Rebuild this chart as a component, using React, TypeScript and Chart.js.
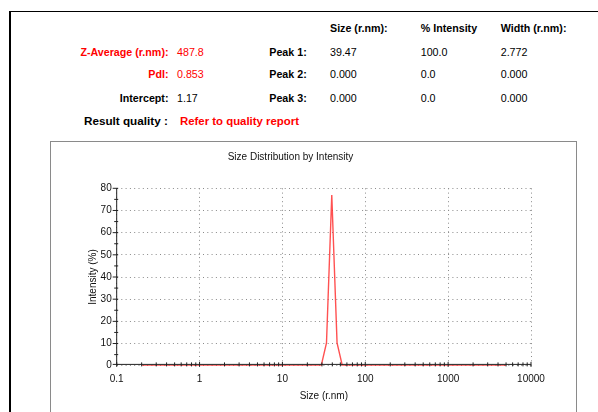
import React, { useEffect, useRef } from 'react';
import { Chart, registerables } from 'chart.js';

Chart.register(...registerables);

// ---- Data ----
const sizes = [
  0.2, 0.2316, 0.2683, 0.3107, 0.3598, 0.4166, 0.4825, 0.5585, 0.647, 0.7495,
  0.868, 1.005, 1.164, 1.348, 1.561, 1.808, 2.094, 2.425, 2.808, 3.252,
  3.766, 4.361, 5.05, 5.85, 6.77, 7.845, 9.085, 10.52, 12.18, 14.11,
  16.34, 18.92, 21.91, 25.38, 29.39, 34.03, 39.41, 45.64, 52.85, 61.2,
  70.9, 82.1, 95.05, 110.1, 127.5, 147.7, 171.0, 198.1, 229.4, 265.6,
  307.6, 356.2, 412.5, 477.7, 553, 640.5, 742, 859, 995, 1153,
  1335, 1546, 1790, 2073, 2401, 2780, 3220, 3728, 4318, 5000,
];
const intensity = [
  0, 0, 0, 0, 0, 0, 0, 0, 0, 0,
  0, 0, 0, 0, 0, 0, 0, 0, 0, 0,
  0, 0, 0, 0, 0, 0, 0, 0, 0, 0,
  0, 0, 0, 0, 0, 10.3, 77.0, 10.3, 0, 0,
  0, 0, 0, 0, 0, 0, 0, 0, 0, 0,
  0, 0, 0, 0, 0, 0, 0, 0, 0, 0,
  0, 0, 0, 0, 0, 0, 0, 0, 0, 0,
];

const xTickValues = [0.1, 1, 10, 100, 1000, 10000];
const xTickLabels = ['0.1', '1', '10', '100', '1000', '10000'];
const yTickValues = [0, 10, 20, 30, 40, 50, 60, 70, 80];
const yMinorTicks = [5, 15, 25, 35, 45, 55, 65, 75];

const summaryLabels = ['Z-Average (r.nm):', 'PdI:', 'Intercept:'];
const summaryValues = ['487.8', '0.853', '1.17'];
const summaryRed = [true, true, false];
const columnHeaders = ['Size (r.nm):', '% Intensity', 'Width (r.nm):'];
const peakLabels = ['Peak 1:', 'Peak 2:', 'Peak 3:'];
const peakSizes = ['39.47', '0.000', '0.000'];
const peakIntensities = ['100.0', '0.0', '0.0'];
const peakWidths = ['2.772', '0.000', '0.000'];
const qualityLabel = 'Result quality :';
const qualityValue = 'Refer to quality report';

const FONT = "'Liberation Sans', Arial, Helvetica, sans-serif";

const axisTicksPlugin = {
  id: 'axisTicks',
  afterDraw(chart: any) {
    const { ctx, chartArea } = chart;
    const { left, right, top, bottom } = chartArea;
    const xs = chart.scales.x;
    const ys = chart.scales.y;
    const ax = bottom - 1.3;
    ctx.save();
    ctx.strokeStyle = '#222';
    ctx.lineWidth = 1;
    ctx.setLineDash([]);
    ctx.beginPath();
    ctx.moveTo(left, top);
    ctx.lineTo(left, ax);
    ctx.moveTo(left, ax);
    ctx.lineTo(right, ax);
    // y major ticks
    yTickValues.forEach((v) => {
      const p = v === 0 ? ax : ys.getPixelForValue(v);
      ctx.moveTo(left - 4, p);
      ctx.lineTo(left + 1.5, p);
    });
    yMinorTicks.forEach((v) => {
      const p = ys.getPixelForValue(v);
      ctx.moveTo(left - 2.5, p);
      ctx.lineTo(left + 1.5, p);
    });
    // x ticks
    xTickValues.forEach((v, i) => {
      const p = xs.getPixelForValue(v);
      ctx.moveTo(p, ax - 2.5);
      ctx.lineTo(p, ax + 2.5);
      if (i < xTickValues.length - 1) {
        for (let d = 2; d <= 9; d++) {
          const q = xs.getPixelForValue(v * d);
          ctx.moveTo(q, ax - 2);
          ctx.lineTo(q, ax + 2);
        }
      }
    });
    ctx.stroke();
    ctx.restore();
  },
};

function ChartBox() {
  const ref = useRef<HTMLCanvasElement | null>(null);
  useEffect(() => {
    if (!ref.current) return;
    const chart = new Chart(ref.current, {
      type: 'line',
      data: {
        datasets: [
          {
            data: sizes.map((s, i) => ({ x: s, y: intensity[i] })),
            borderColor: 'rgba(255,50,50,0.85)',
            borderWidth: 1.4,
            pointRadius: 0,
            tension: 0,
            fill: false,
          },
        ],
      },
      options: {
        responsive: false,
        animation: false,
        devicePixelRatio: 1,
        layout: { padding: { left: 0, right: 45, top: 0, bottom: 0 } },
        plugins: {
          legend: { display: false },
          tooltip: { enabled: false },
          title: {
            display: true,
            text: 'Size Distribution by Intensity',
            color: '#111',
            font: { family: FONT, size: 10, weight: 'normal' },
            padding: { top: 10, bottom: 25.3 },
          },
        },
        scales: {
          x: {
            type: 'logarithmic',
            min: 0.1,
            max: 10000,
            afterBuildTicks: (scale: any) => {
              scale.ticks = xTickValues.map((v) => ({ value: v }));
            },
            afterFit: (scale: any) => {
              scale.height = 46.3;
            },
            ticks: {
              autoSkip: false,
              maxRotation: 0,
              padding: 8,
              color: '#111',
              font: { family: FONT, size: 10 },
              callback: (_v: any, i: number) => xTickLabels[i],
            },
            grid: {
              color: '#8a8a8a',
              lineWidth: 1,
              drawTicks: false,
            },
            border: { display: false, dash: [1, 3.3] },
            title: {
              display: true,
              text: 'Size (r.nm)',
              color: '#111',
              font: { family: FONT, size: 10 },
              padding: { top: 0, bottom: 9.3 },
            },
          },
          y: {
            type: 'linear',
            min: 0,
            max: 80,
            afterBuildTicks: (scale: any) => {
              scale.ticks = yTickValues.map((v) => ({ value: v }));
            },
            afterFit: (scale: any) => {
              scale.width = 66.7;
            },
            ticks: {
              padding: 5,
              color: '#111',
              font: { family: FONT, size: 10 },
              callback: (v: any) => String(v),
            },
            grid: {
              color: '#8a8a8a',
              lineWidth: 1,
              drawTicks: false,
            },
            border: { display: false, dash: [1, 3.3] },
            title: {
              display: true,
              text: 'Intensity (%)',
              color: '#111',
              font: { family: FONT, size: 10 },
              padding: { top: 37, bottom: 0 },
            },
          },
        },
      },
      plugins: [axisTicksPlugin],
    } as any);
    return () => chart.destroy();
  }, []);
  return (
    <canvas
      ref={ref}
      width={526}
      height={271}
      style={{ position: 'absolute', left: 50, top: 141, width: 526, height: 271 }}
    />
  );
}

type TxtProps = {
  x: number;
  y: number;
  text: string;
  right?: boolean;
  bold?: boolean;
  red?: boolean;
  size?: number;
};

function Txt({ x, y, text, right, bold, red, size = 10.7 }: TxtProps) {
  const style: React.CSSProperties = {
    position: 'absolute',
    top: y - 7,
    lineHeight: '14px',
    fontSize: size,
    fontWeight: bold ? 'bold' : 'normal',
    color: red ? '#ff0000' : '#000',
    whiteSpace: 'nowrap',
    fontFamily: FONT,
  };
  if (right) style.right = 598 - x;
  else style.left = x;
  return <div style={style}>{text}</div>;
}

export default function App() {
  const rowY = [51.7, 74.3, 97.7];
  const colX = [330, 420.7, 500.7];
  return (
    <div
      style={{
        position: 'fixed',
        left: 0,
        top: 0,
        width: 598,
        height: 412,
        overflow: 'hidden',
        background: '#fff',
        fontFamily: FONT,
      }}
    >
      {/* outer frame */}
      <div
        style={{
          position: 'absolute',
          left: 9,
          top: 11,
          width: 700,
          height: 500,
          borderTop: '1.6px solid #000',
          borderLeft: '2px solid #000',
        }}
      />
      {/* inner chart box */}
      <div
        style={{
          position: 'absolute',
          left: 50,
          top: 141,
          width: 527,
          height: 400,
          boxSizing: 'border-box',
          border: '1px solid #8a8a8a',
        }}
      />
      {summaryLabels.map((t, i) => (
        <Txt key={'sl' + i} x={168.5} y={rowY[i]} text={t} right bold red={summaryRed[i]} />
      ))}
      {summaryValues.map((t, i) => (
        <Txt key={'sv' + i} x={177} y={rowY[i]} text={t} red={summaryRed[i]} />
      ))}
      {columnHeaders.map((t, i) => (
        <Txt key={'ch' + i} x={colX[i]} y={28.3} text={t} bold />
      ))}
      {peakLabels.map((t, i) => (
        <Txt key={'pl' + i} x={269.3} y={rowY[i]} text={t} bold />
      ))}
      {peakSizes.map((t, i) => (
        <Txt key={'ps' + i} x={colX[0]} y={rowY[i]} text={t} />
      ))}
      {peakIntensities.map((t, i) => (
        <Txt key={'pi' + i} x={colX[1]} y={rowY[i]} text={t} />
      ))}
      {peakWidths.map((t, i) => (
        <Txt key={'pw' + i} x={colX[2]} y={rowY[i]} text={t} />
      ))}
      <Txt x={84} y={121} text={qualityLabel} bold size={11.7} />
      <Txt x={180} y={121} text={qualityValue} bold red size={11.4} />
      <ChartBox />
    </div>
  );
}
